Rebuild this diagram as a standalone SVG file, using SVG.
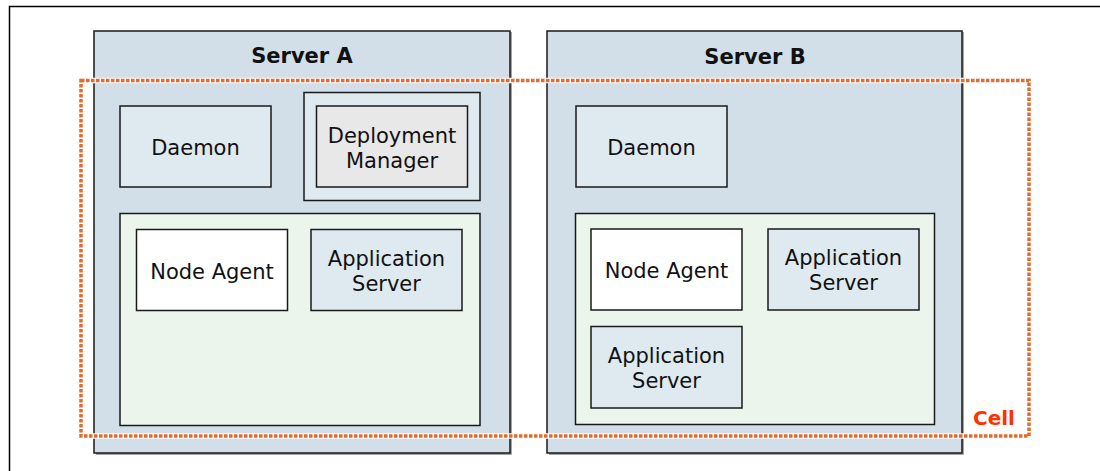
<svg xmlns="http://www.w3.org/2000/svg" width="1100" height="471" viewBox="0 0 1100 471">
<style>
.srv{fill:#d2dfe8;stroke:#1a1a1a;stroke-width:1.5}
.shd{fill:none;stroke:#888;stroke-width:1.5}
.box{stroke:#1a1a1a;stroke-width:1.5}
.lb{fill:#dfe9f0}
.wh{fill:#ffffff}
.gr{fill:#ecf5ec}
.dm{fill:#e8e8e8}
.t{font-family:"DejaVu Sans","Verdana",sans-serif;font-size:21px;fill:#111;text-anchor:middle}
.tb{font-family:"DejaVu Sans","Verdana",sans-serif;font-size:21px;font-weight:bold;fill:#111;text-anchor:middle}
</style>
<rect width="1100" height="471" fill="#ffffff"/>
<path d="M9.5 471 V6.5 H1100" fill="none" stroke="#000" stroke-width="1.5"/>
<g id="serverA">
<path class="shd" d="M511 32 V454 H96"/>
<rect class="srv" x="94" y="31" width="416" height="422"/>
<text class="tb" x="302" y="62.5">Server A</text>
</g>
<g id="serverB">
<path class="shd" d="M963 32 V454 H549"/>
<rect class="srv" x="547" y="31" width="415" height="422"/>
<text class="tb" x="755" y="63.5">Server B</text>
</g>
<g id="daemonA">
<rect class="box lb" x="120" y="106" width="151" height="81"/>
<text class="t" x="195.5" y="154.5">Daemon</text>
</g>
<g id="dmgrA">
<rect class="box lb" x="304" y="92.5" width="176" height="108"/>
<rect class="box dm" x="316.5" y="106" width="151" height="81"/>
<text class="t" x="392" y="142.5">Deployment</text>
<text class="t" x="392" y="167.5">Manager</text>
</g>
<g id="nodeA">
<rect class="box gr" x="120" y="213.5" width="360" height="212"/>
</g>
<g id="nodeAgentA">
<rect class="box wh" x="136.5" y="229.5" width="151" height="81"/>
<text class="t" x="212" y="278.5">Node Agent</text>
</g>
<g id="appServerA">
<rect class="box lb" x="311" y="229.5" width="151" height="81"/>
<text class="t" x="386.5" y="265.5">Application</text>
<text class="t" x="386.5" y="290.5">Server</text>
</g>
<g id="daemonB">
<rect class="box lb" x="576" y="106" width="151" height="81"/>
<text class="t" x="651.5" y="154.5">Daemon</text>
</g>
<g id="nodeB">
<rect class="box gr" x="575.5" y="213.5" width="359" height="211"/>
</g>
<g id="nodeAgentB">
<rect class="box wh" x="591" y="229" width="151" height="81"/>
<text class="t" x="666.5" y="278">Node Agent</text>
</g>
<g id="appServerB1">
<rect class="box lb" x="768" y="229" width="151" height="81"/>
<text class="t" x="843.5" y="265">Application</text>
<text class="t" x="843.5" y="290">Server</text>
</g>
<g id="appServerB2">
<rect class="box lb" x="591" y="326.5" width="151" height="81.5"/>
<text class="t" x="666.5" y="362.5">Application</text>
<text class="t" x="666.5" y="387.5">Server</text>
</g>
<g id="cell">
<rect x="81" y="80.5" width="948" height="355.5" fill="none" stroke="#ffffff" stroke-width="5.5"/>
<rect x="81" y="80.5" width="948" height="355.5" fill="none" stroke="#e06c30" stroke-width="3.5" stroke-dasharray="3.5 1.5"/>
<text x="994" y="425" font-family="DejaVu Sans, Verdana, sans-serif" font-size="20" font-weight="bold" fill="#ff3300" text-anchor="middle">Cell</text>
</g>
<g id="connectors"></g>
</svg>
